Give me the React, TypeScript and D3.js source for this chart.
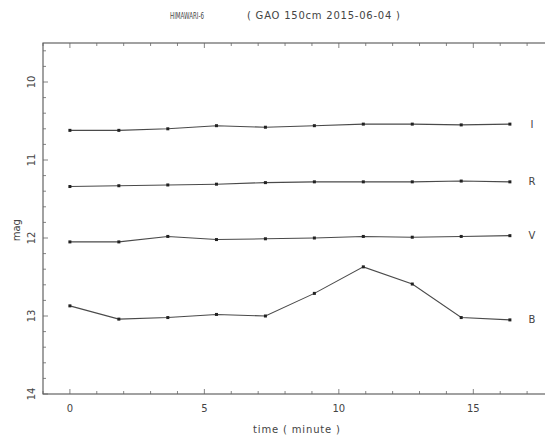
import React from "react";
import * as d3 from "d3";

// time of each frame (minute)
const times = [0, 1.82, 3.64, 5.45, 7.27, 9.09, 10.91, 12.73, 14.55, 16.36];

const bands = ["I", "R", "V", "B"];
const magI = [10.62, 10.62, 10.6, 10.56, 10.58, 10.56, 10.54, 10.54, 10.55, 10.54];
const magR = [11.34, 11.33, 11.32, 11.31, 11.29, 11.28, 11.28, 11.28, 11.27, 11.28];
const magV = [12.05, 12.05, 11.98, 12.02, 12.01, 12.0, 11.98, 11.99, 11.98, 11.97];
const magB = [12.87, 13.04, 13.02, 12.98, 13.0, 12.71, 12.37, 12.59, 13.02, 13.05];

const xTicks = [0, 5, 10, 15];
const yTicks = [10, 11, 12, 13, 14];

const W = 545;
const H = 436;

export default function App() {
  const x = d3.scaleLinear().domain([-1, 18]).range([43, 554]);
  const y = d3.scaleLinear().domain([10, 14]).range([82, 394]);

  const left = x(-1);
  const right = x(18);
  const top = y(9.5);
  const bottom = y(14);

  const series = [magI, magR, magV, magB];
  const line = d3
    .line<number>()
    .x((_, i) => x(times[i]))
    .y((d) => y(d));

  const ink = "#444";
  const font = "DejaVu Sans, sans-serif";

  const minorX = d3.range(-1, 19, 1);
  const minorY = d3.range(9.6, 14.0001, 0.2);

  return (
    <svg
      width={W}
      height={H}
      style={{ position: "absolute", left: 0, top: 0, background: "#fff" }}
      fontFamily={font}
    >
      {/* title */}
      <text x={170} y={19} fontSize={8.5} fill={ink} textLength={34} lengthAdjust="spacingAndGlyphs">
        HIMAWARI-6
      </text>
      <text x={247} y={19} fontSize={10} fill={ink} textLength={153}>
        ( GAO 150cm 2015-06-04 )
      </text>

      {/* frame */}
      <rect
        x={left}
        y={top}
        width={right - left}
        height={bottom - top}
        fill="none"
        stroke="#555"
        strokeWidth={1.1}
      />

      {/* x ticks, bottom and top */}
      {minorX.map((t) => {
        const major = xTicks.includes(t);
        const len = major ? 5 : 3;
        return (
          <g key={"x" + t} stroke="#666" strokeWidth={0.8}>
            <line x1={x(t)} x2={x(t)} y1={bottom} y2={bottom - len} />
            <line x1={x(t)} x2={x(t)} y1={top} y2={top + len} />
          </g>
        );
      })}
      {xTicks.map((t) => (
        <text
          key={"xl" + t}
          x={x(t)}
          y={412}
          textAnchor="middle"
          fontSize={10}
          fill={ink}
        >
          {t}
        </text>
      ))}
      <text x={253} y={433} fontSize={10} fill={ink} textLength={87}>
        time ( minute )
      </text>

      {/* y ticks */}
      {minorY.map((m) => {
        const major = Math.abs(m - Math.round(m)) < 1e-6;
        const len = major ? 5 : 3;
        return (
          <line
            key={"y" + m.toFixed(1)}
            x1={left}
            x2={left + len}
            y1={y(m)}
            y2={y(m)}
            stroke="#666"
            strokeWidth={0.8}
          />
        );
      })}
      {yTicks.map((m) => (
        <text
          key={"yl" + m}
          transform={`translate(35,${y(m)}) rotate(-90)`}
          textAnchor="middle"
          fontSize={10}
          fill={ink}
        >
          {m}
        </text>
      ))}
      <text
        transform={`translate(20,${y(11.9)}) rotate(-90)`}
        textAnchor="middle"
        fontSize={10}
        fill={ink}
      >
        mag
      </text>

      {/* light curves */}
      {series.map((s, k) => (
        <g key={bands[k]}>
          <path d={line(s) || ""} fill="none" stroke="#4a4a4a" strokeWidth={1.1} />
          {s.map((d, i) => (
            <rect
              key={i}
              x={x(times[i]) - 1.5}
              y={y(d) - 1.5}
              width={3}
              height={3}
              fill="#222"
            />
          ))}
          <text
            x={532}
            y={y(s[s.length - 1]) + 3.5}
            textAnchor="middle"
            fontSize={10}
            fill={ink}
          >
            {bands[k]}
          </text>
        </g>
      ))}
    </svg>
  );
}
